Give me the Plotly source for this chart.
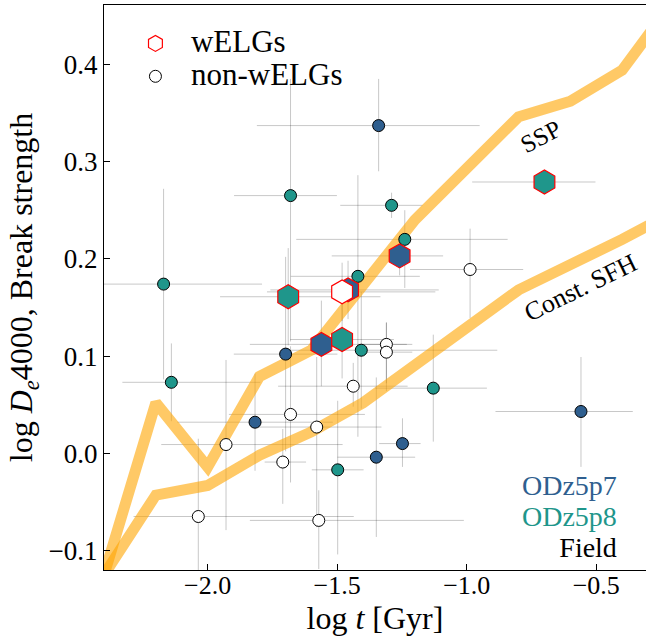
import plotly.graph_objects as go

# Model tracks: log age [Gyr] vs log De4000
ssp_logt = [-2.4, -2.2, -2.0, -1.8, -1.6, -1.2, -0.8, -0.6, -0.4, -0.2]
ssp_d4k = [-0.125, 0.052, -0.014, 0.079, 0.106, 0.240, 0.346, 0.362, 0.394, 0.466]
csfh_logt = [-2.4, -2.2, -2.0, -1.8, -1.6, -1.4, -0.8, -0.6, -0.4, -0.2]
csfh_d4k = [-0.125, -0.043, -0.033, -0.002, 0.022, 0.052, 0.168, 0.193, 0.220, 0.248]

# ODz5p7 non-wELGs
p7_logt = [-1.340, -1.699, -0.559, -1.817, -1.248, -1.349]
p7_d4k = [0.337, 0.102, 0.043, 0.032, 0.010, -0.004]
p7_xlo = [0.47, 0.20, 0.33, 0.30, 0.09, 0.15]
p7_xhi = [0.39, 0.20, 0.20, 0.30, 0.07, 0.15]
p7_ylo = [0.047, 0.10, 0.057, 0.05, 0.024, 0.082]
p7_yhi = [0.048, 0.10, 0.056, 0.05, 0.026, 0.082]

# ODz5p8 non-wELGs
p8_logt = [-1.680, -1.290, -1.239, -2.170, -1.420, -1.407, -2.140, -1.129, -1.498]
p8_d4k = [0.265, 0.255, 0.220, 0.174, 0.182, 0.106, 0.073, 0.067, -0.017]
p8_xlo = [0.218, 0.198, 0.419, 0.25, 0.259, 0.309, 0.189, 0.224, 0.10]
p8_xhi = [0.179, 0.119, 0.397, 0.38, 0.239, 0.525, 0.343, 0.207, 0.10]
p8_ylo = [0.15, 0.013, 0.05, 0.098, 0.165, 0.06, 0.04, 0.055, 0.087]
p8_yhi = [0.12, 0.013, 0.03, 0.098, 0.104, 0.06, 0.04, 0.055, 0.071]

# Field non-wELGs
fd_logt = [-0.987, -1.310, -1.310, -1.438, -1.680, -1.579, -1.929, -1.710, -2.036, -1.571]
fd_d4k = [0.189, 0.112, 0.104, 0.069, 0.040, 0.027, 0.009, -0.009, -0.065, -0.069]
fd_xlo = [0.232, 0.10, 0.10, 0.29, 0.238, 0.25, 0.25, 0.07, 0.25, 0.266]
fd_xhi = [0.205, 0.10, 0.10, 0.21, 0.287, 0.25, 0.45, 0.09, 0.60, 0.56]
fd_ylo = [0.05, 0.04, 0.04, 0.021, 0.07, 0.103, 0.088, 0.043, 0.065, 0.05]
fd_yhi = [0.042, 0.023, 0.03, 0.024, 0.07, 0.072, 0.087, 0.034, 0.08, 0.031]

# wELGs per field
w7_logt = [-1.259, -1.458, -1.561]
w7_d4k = [0.203, 0.168, 0.112]
w7_xlo = [0.262, 0.30, 0.276]
w7_xhi = [0.168, 0.35, 0.33]
w7_ylo = [0.02, 0.03, 0.043]
w7_yhi = [0.02, 0.03, 0.045]

w8_logt = [-0.700, -1.689, -1.481]
w8_d4k = [0.279, 0.161, 0.117]
w8_xlo = [0.279, 0.263, 0.20]
w8_xhi = [0.197, 0.356, 0.20]
w8_ylo = [0.01, 0.05, 0.04]
w8_yhi = [0.01, 0.05, 0.04]

wf_logt = [-1.481]
wf_d4k = [0.166]
wf_xlo = [0.29]
wf_xhi = [0.36]
wf_ylo = [0.03]
wf_yhi = [0.03]

field_names = ["ODz5p7", "ODz5p8", "Field"]

C_P7 = "#2f5f8f"
C_P8 = "#1f968b"
field_colors = [C_P7, C_P8, "black"]
ORANGE = "rgba(255,165,0,0.6)"
ERR = "rgba(0,0,0,0.22)"
FONT = "Liberation Serif, Times New Roman, serif"

groups = [
    (p7_logt, p7_d4k, p7_xlo, p7_xhi, p7_ylo, p7_yhi),
    (p8_logt, p8_d4k, p8_xlo, p8_xhi, p8_ylo, p8_yhi),
    (fd_logt, fd_d4k, fd_xlo, fd_xhi, fd_ylo, fd_yhi),
    (w7_logt, w7_d4k, w7_xlo, w7_xhi, w7_ylo, w7_yhi),
    (w8_logt, w8_d4k, w8_xlo, w8_xhi, w8_ylo, w8_yhi),
    (wf_logt, wf_d4k, wf_xlo, wf_xhi, wf_ylo, wf_yhi),
]

fig = go.Figure()

# error bars underneath everything
for x, y, xlo, xhi, ylo, yhi in groups:
    fig.add_trace(go.Scatter(
        x=x, y=y, mode="markers", marker=dict(size=1, opacity=0),
        error_x=dict(type="data", array=xhi, arrayminus=xlo, color=ERR, thickness=1, width=0),
        error_y=dict(type="data", array=yhi, arrayminus=ylo, color=ERR, thickness=1, width=0),
        showlegend=False, hoverinfo="skip"))

# model tracks
fig.add_trace(go.Scatter(x=ssp_logt, y=ssp_d4k, mode="lines",
                         line=dict(color=ORANGE, width=11), showlegend=False))
fig.add_trace(go.Scatter(x=csfh_logt, y=csfh_d4k, mode="lines",
                         line=dict(color=ORANGE, width=11), showlegend=False))

# non-wELGs
circ = dict(symbol="circle", size=12, line=dict(color="black", width=1))
fig.add_trace(go.Scatter(x=p7_logt, y=p7_d4k, mode="markers",
                         marker=dict(color=C_P7, **circ), showlegend=False))
fig.add_trace(go.Scatter(x=p8_logt, y=p8_d4k, mode="markers",
                         marker=dict(color=C_P8, **circ), showlegend=False))
fig.add_trace(go.Scatter(x=fd_logt, y=fd_d4k, mode="markers",
                         marker=dict(color="white", **circ), showlegend=False))

# wELGs
hexm = dict(symbol="hexagon", size=24, line=dict(color="red", width=1.2))
fig.add_trace(go.Scatter(x=w7_logt, y=w7_d4k, mode="markers",
                         marker=dict(color=C_P7, **hexm), showlegend=False))
fig.add_trace(go.Scatter(x=w8_logt, y=w8_d4k, mode="markers",
                         marker=dict(color=C_P8, **hexm), showlegend=False))
fig.add_trace(go.Scatter(x=wf_logt, y=wf_d4k, mode="markers",
                         marker=dict(color="white", **hexm), showlegend=False))

# legend entries
fig.add_trace(go.Scatter(x=[None], y=[None], mode="markers",
                         name='<span style="font-size:31px">\u00a0\u00a0wELGs</span>',
                         marker=dict(symbol="hexagon", size=20, color="white",
                                     line=dict(color="red", width=1.2))))
fig.add_trace(go.Scatter(x=[None], y=[None], mode="markers",
                         name='<span style="font-size:31px">\u00a0\u00a0non-wELGs</span>',
                         marker=dict(symbol="circle", size=12, color="white",
                                     line=dict(color="black", width=1))))

# stacked field key, one coloured line per field
field_key = "<br>".join(
    f'<span style="color:{c};font-size:28px">{n}</span>'
    for n, c in zip(field_names, field_colors))

annotations = [
    dict(x=-0.714, y=0.3256, xref="x", yref="y", text="SSP", showarrow=False,
         textangle=-28, font=dict(family=FONT, size=25, color="black")),
    dict(x=-0.559, y=0.170, xref="x", yref="y", text="Const. SFH", showarrow=False,
         textangle=-26, font=dict(family=FONT, size=26, color="black")),
    dict(x=0.951, y=0.094, xref="paper", yref="paper", text=field_key, showarrow=False,
         xanchor="right", yanchor="middle", align="right",
         font=dict(family=FONT, size=24, color="black")),
]

fig.update_layout(
    width=646, height=637,
    margin=dict(l=104, r=0, t=5, b=67),
    paper_bgcolor="white", plot_bgcolor="white",
    font=dict(family=FONT, color="black"),
    annotations=annotations,
    legend=dict(x=0.058, y=0.97, xanchor="left", yanchor="top",
                bgcolor="rgba(0,0,0,0)", font=dict(family=FONT, size=23),
                tracegroupgap=0),
    xaxis=dict(range=[-2.4, -0.308], tickvals=[-2.0, -1.5, -1.0, -0.5], tickformat=".1f",
               ticks="inside", ticklen=6, tickcolor="black", showline=True, linecolor="black",
               linewidth=1, mirror=True, showgrid=False, zeroline=False,
               ticklabelstandoff=-8,
               tickfont=dict(family=FONT, size=26, color="black"),
               title=dict(text="log <i>t</i> [Gyr]", font=dict(family=FONT, size=32), standoff=7)),
    yaxis=dict(range=[-0.12, 0.461], tick0=0, dtick=0.1, tickformat=".1f",
               ticks="inside", ticklen=6, tickcolor="black", showline=True, linecolor="black",
               linewidth=1, mirror=False, showgrid=False, zeroline=False,
               tickfont=dict(family=FONT, size=27, color="black"),
               title=dict(text="log <i>D</i><sub><i>e</i></sub>4000, Break strength",
                          font=dict(family=FONT, size=32), standoff=6)),
)

fig.write_html("out.html")
